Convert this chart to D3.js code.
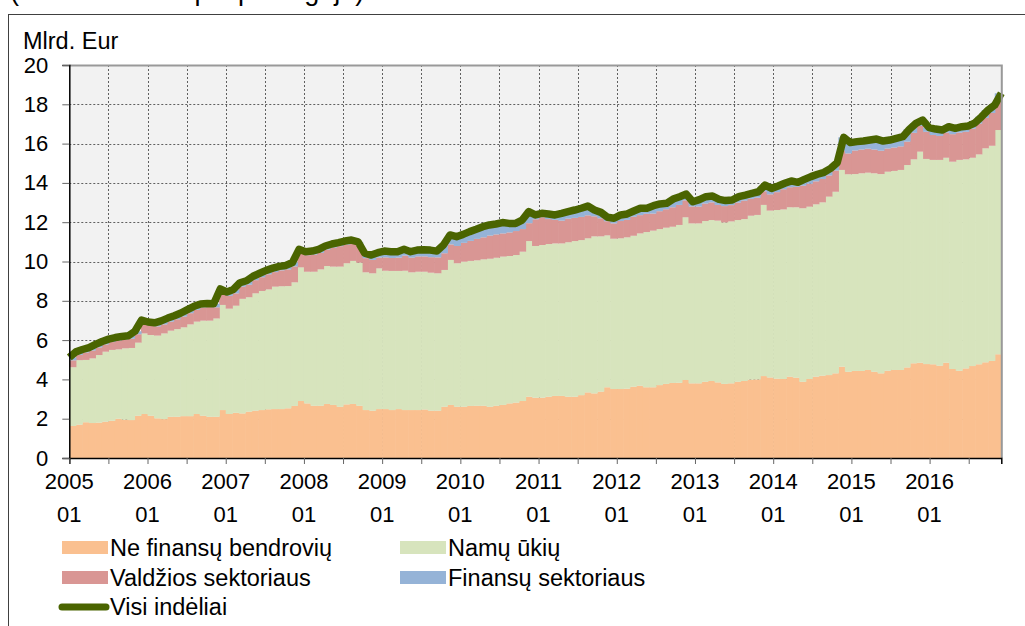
<!DOCTYPE html>
<html>
<head>
<meta charset="utf-8">
<script src="https://cdn.jsdelivr.net/npm/d3@7"></script>
<style>
body{margin:0;background:#fff;}
svg{display:block;font-family:"Liberation Sans",Arial,sans-serif;}
</style>
</head>
<body>
<svg id="canvas"></svg>
<script>
// 2005 01 ... 2016 11, mlrd. Eur
let years=['2005','2006','2007','2008','2009','2010','2011','2012','2013','2014','2015','2016'];
let monthCount=143;

let nonFin=[
1.63,1.70,1.82,1.78,1.80,1.85,1.90,2.00,1.95,1.93,2.15,2.24,
2.15,2.02,1.98,2.10,2.10,2.13,2.13,2.24,2.15,2.10,2.10,2.44,
2.24,2.30,2.27,2.36,2.41,2.44,2.48,2.49,2.49,2.53,2.65,2.90,
2.78,2.66,2.66,2.75,2.70,2.61,2.73,2.75,2.66,2.44,2.41,2.49,
2.49,2.44,2.49,2.44,2.44,2.44,2.47,2.41,2.41,2.61,2.70,2.61,
2.61,2.65,2.66,2.66,2.61,2.66,2.70,2.78,2.82,2.90,3.12,3.07,
3.07,3.12,3.16,3.16,3.12,3.12,3.20,3.34,3.29,3.38,3.60,3.51,
3.51,3.53,3.63,3.68,3.60,3.60,3.71,3.77,3.82,3.83,3.97,3.80,
3.80,3.88,3.92,3.85,3.77,3.80,3.88,3.92,3.99,4.00,4.17,4.10,
4.04,4.02,4.14,4.09,3.88,4.02,4.14,4.19,4.22,4.31,4.65,4.39,
4.43,4.43,4.48,4.39,4.31,4.44,4.48,4.48,4.61,4.82,4.85,4.78,
4.77,4.70,4.85,4.53,4.44,4.56,4.68,4.77,4.87,4.94,5.28];

let households=[
2.99,3.28,3.17,3.29,3.44,3.56,3.60,3.53,3.63,3.67,3.72,4.10,
4.11,4.21,4.36,4.38,4.46,4.52,4.67,4.70,4.84,4.89,5.00,5.35,
5.36,5.45,5.83,5.82,5.97,6.06,6.10,6.23,6.25,6.22,6.29,6.80,
6.70,6.82,6.94,7.02,7.04,7.13,7.18,7.28,7.28,7.01,6.99,7.16,
7.04,7.08,7.03,7.09,7.01,7.04,7.01,7.02,6.99,6.96,7.38,7.30,
7.38,7.38,7.40,7.45,7.53,7.53,7.55,7.50,7.51,7.60,7.92,7.72,
7.77,7.77,7.76,7.76,7.86,7.92,7.89,7.84,7.99,7.90,7.73,7.65,
7.67,7.70,7.68,7.75,7.90,7.97,7.94,7.95,7.95,8.03,8.28,8.14,
8.14,8.18,8.19,8.23,8.22,8.24,8.23,8.24,8.34,8.37,8.71,8.49,
8.58,8.63,8.62,8.67,8.83,8.77,8.77,8.82,9.08,9.24,10.01,10.05,
10.02,10.06,10.04,10.10,10.14,10.13,10.13,10.18,10.30,10.38,10.74,10.44,
10.40,10.47,10.43,10.55,10.73,10.64,10.60,10.68,10.89,10.95,11.41];

let government=[
0.35,0.27,0.38,0.40,0.39,0.37,0.40,0.45,0.45,0.47,0.43,0.50,
0.48,0.47,0.46,0.46,0.50,0.55,0.57,0.60,0.67,0.69,0.57,0.61,
0.65,0.63,0.62,0.64,0.67,0.70,0.77,0.74,0.81,0.85,0.81,0.72,
0.84,0.87,0.84,0.84,0.97,1.04,0.95,0.88,0.88,0.72,0.68,0.55,
0.68,0.66,0.68,0.77,0.75,0.78,0.78,0.79,0.81,0.85,0.79,0.88,
0.96,1.02,1.09,1.12,1.18,1.19,1.18,1.20,1.22,1.15,0.91,1.36,
1.41,1.27,1.20,1.16,1.20,1.18,1.18,1.17,1.02,0.92,0.72,0.78,
0.88,0.89,0.97,0.93,0.93,0.87,0.91,0.94,0.99,1.02,0.86,0.86,
0.86,0.89,0.90,0.80,0.83,0.83,0.89,0.94,0.86,0.88,0.69,0.83,
0.91,1.03,1.02,1.04,1.15,1.17,1.17,1.19,1.08,1.08,0.97,1.06,
1.20,1.21,1.22,1.21,1.19,1.18,1.19,1.20,1.19,1.35,1.31,1.38,
1.27,1.22,1.28,1.40,1.39,1.40,1.48,1.57,1.55,1.67,1.47];

let financial=[
0.15,0.15,0.15,0.15,0.15,0.15,0.15,0.15,0.15,0.15,0.15,0.18,
0.18,0.18,0.18,0.18,0.18,0.18,0.18,0.18,0.18,0.18,0.18,0.20,
0.20,0.20,0.20,0.20,0.20,0.20,0.20,0.20,0.20,0.20,0.20,0.20,
0.18,0.18,0.18,0.18,0.18,0.18,0.18,0.18,0.18,0.25,0.25,0.25,
0.32,0.32,0.30,0.32,0.30,0.32,0.34,0.36,0.32,0.42,0.48,0.47,
0.43,0.47,0.49,0.54,0.54,0.53,0.55,0.46,0.39,0.46,0.59,0.22,
0.20,0.26,0.25,0.37,0.36,0.40,0.44,0.47,0.32,0.30,0.20,0.26,
0.31,0.30,0.29,0.35,0.28,0.40,0.37,0.30,0.42,0.42,0.32,0.24,
0.35,0.35,0.32,0.28,0.28,0.26,0.30,0.28,0.28,0.30,0.32,0.30,
0.31,0.30,0.32,0.23,0.32,0.36,0.36,0.34,0.36,0.40,0.69,0.55,
0.45,0.43,0.44,0.53,0.49,0.43,0.47,0.49,0.63,0.48,0.30,0.21,
0.30,0.30,0.30,0.30,0.30,0.30,0.30,0.35,0.40,0.40,0.40];

let allDeposits=[
5.12,5.40,5.52,5.62,5.78,5.93,6.05,6.13,6.18,6.22,6.45,7.02,
6.92,6.88,6.98,7.12,7.24,7.38,7.55,7.72,7.84,7.86,7.85,8.60,
8.45,8.58,8.92,9.02,9.25,9.40,9.55,9.66,9.75,9.80,9.95,10.62,
10.50,10.53,10.62,10.79,10.89,10.96,11.04,11.09,11.00,10.42,10.33,10.45,
10.53,10.50,10.50,10.62,10.50,10.58,10.60,10.58,10.53,10.84,11.35,11.26,
11.38,11.52,11.64,11.77,11.86,11.91,11.98,11.94,11.94,12.11,12.54,12.37,
12.45,12.42,12.37,12.45,12.54,12.62,12.71,12.82,12.62,12.50,12.25,12.20,
12.37,12.42,12.57,12.71,12.71,12.84,12.93,12.96,13.18,13.30,13.43,13.04,
13.15,13.30,13.33,13.16,13.10,13.13,13.30,13.38,13.47,13.55,13.89,13.72,
13.84,13.98,14.10,14.03,14.18,14.32,14.44,14.54,14.74,15.03,16.32,16.05,
16.10,16.13,16.18,16.23,16.13,16.18,16.27,16.35,16.73,17.03,17.20,16.81,
16.74,16.69,16.86,16.78,16.86,16.90,17.06,17.37,17.71,17.96,18.56];

let seriesNames=['Ne finansų bendrovių','Namų ūkių','Valdžios sektoriaus','Finansų sektoriaus'];
let lineName='Visi indėliai';
let yTicks=[0,2,4,6,8,10,12,14,16,18,20];
let unitLabel='Mlrd. Eur';
let topNote='(likučiai laikotarpio pabaigoje)';

let colors=['#fac090','#d7e4bd','#d99694','#95b3d7'];
let lineColor='#4a6400';

let width=1025;
let height=626;
let plotLeft=69.3,plotRight=1001.3,plotTop=65,plotBottom=458;

let canvas=d3.select('#canvas')
canvas.attr('width',width)
canvas.attr('height',height)

let xscale,xline,xaxisScale,yscale;
let rows=[];

function buildRows(){
    for(let i=0;i<monthCount;i++){
        rows.push({i:i,nf:nonFin[i],hh:households[i],gov:government[i],fin:financial[i]});
    }
}

function generateScales(){
    xscale=d3.scaleBand()
        .domain(d3.range(monthCount))
        .range([plotLeft,plotRight])
        .paddingInner(0).paddingOuter(0);
    xline=d3.scalePoint()
        .domain(d3.range(monthCount))
        .range([plotLeft,plotRight]);
    xaxisScale=d3.scaleLinear()
        .domain([0,monthCount])
        .range([plotLeft,plotRight]);
    yscale=d3.scaleLinear()
        .domain([0,20])
        .range([plotBottom,plotTop]);
}

function drawFrame(){
    // note line above the frame is cut by the image edge, as in the source
    canvas.append('text')
        .attr('x',10).attr('y',0)
        .attr('font-size',27)
        .text(topNote);
    canvas.append('rect')
        .attr('x',8.5).attr('y',14.5)
        .attr('width',1030).attr('height',700)
        .attr('fill','#fff')
        .attr('stroke','#404040').attr('stroke-width',1);
    canvas.append('rect')
        .attr('x',plotLeft).attr('y',plotTop)
        .attr('width',plotRight-plotLeft).attr('height',plotBottom-plotTop)
        .attr('fill','#f2f2f2');
}

function drawGrid(){
    let g=canvas.append('g').attr('stroke','#606060').attr('stroke-width',1).attr('stroke-dasharray','2,2');
    g.selectAll('.hgrid')
        .data(yTicks.filter(d=>d>0&&d<20))
        .enter().append('line')
        .attr('x1',plotLeft).attr('x2',plotRight)
        .attr('y1',d=>Math.round(yscale(d))+0.5).attr('y2',d=>Math.round(yscale(d))+0.5);
    g.selectAll('.vgrid')
        .data(d3.range(6,monthCount,6))
        .enter().append('line')
        .attr('y1',plotTop).attr('y2',plotBottom)
        .attr('x1',d=>Math.round(xaxisScale(d))+0.5).attr('x2',d=>Math.round(xaxisScale(d))+0.5);
}

function drawBars(){
    let stack=d3.stack().keys(['nf','hh','gov','fin']);
    let layers=stack(rows);
    canvas.append('g')
        .selectAll('g')
        .data(layers)
        .enter()
        .append('g')
        .attr('fill',(d,k)=>colors[k])
        .selectAll('rect')
        .data(d=>d)
        .enter()
        .append('rect')
        .attr('x',d=>xscale(d.data.i))
        .attr('width',xscale.bandwidth()+0.6)
        .attr('y',d=>yscale(d[1]))
        .attr('height',d=>yscale(d[0])-yscale(d[1]));
}

function drawLine(){
    let line=d3.line()
        .x((d,i)=>xline(i))
        .y(d=>yscale(d));
    canvas.append('path')
        .datum(allDeposits)
        .attr('d',line)
        .attr('fill','none')
        .attr('stroke',lineColor)
        .attr('stroke-width',7.5)
        .attr('stroke-linejoin','round');
}

function drawAxis(){
    // plot border top/right
    canvas.append('path')
        .attr('d','M'+plotLeft+','+(plotTop+0.5)+'H'+(plotRight+0.5)+'V'+plotBottom)
        .attr('fill','none').attr('stroke','#999').attr('stroke-width',2);

    let yAxis=d3.axisLeft(yscale).tickValues(yTicks).tickSize(7).tickPadding(14).tickFormat(d3.format('d'));
    let gy=canvas.append('g')
        .attr('id','y-axis')
        .attr('transform','translate('+plotLeft+',0)')
        .call(yAxis);
    gy.select('.domain').attr('stroke','#000').attr('stroke-width',1.5);
    gy.selectAll('.tick line').attr('stroke','#666');
    gy.selectAll('.tick text').attr('font-size',22).attr('font-family','"Liberation Sans",Arial,sans-serif').attr('fill','#000');

    let xAxis=d3.axisBottom(xaxisScale).tickValues(d3.range(0,monthCount+1,6)).tickSize(6).tickFormat('');
    let gx=canvas.append('g')
        .attr('id','x-axis')
        .attr('transform','translate(0,'+plotBottom+')')
        .call(xAxis);
    gx.select('.domain').attr('stroke','#000').attr('stroke-width',1.5);
    gx.selectAll('.tick line').attr('stroke','#666');

    let labels=canvas.append('g')
        .attr('font-size',22).attr('text-anchor','middle');
    labels.selectAll('text')
        .data(years)
        .enter().append('text')
        .attr('x',(d,j)=>xaxisScale(j*12))
        .attr('y',489)
        .each(function(d){
            let t=d3.select(this);
            t.append('tspan').text(d);
            t.append('tspan').attr('x',t.attr('x')).attr('dy',33).text('01');
        });

    canvas.append('text')
        .attr('x',23).attr('y',49)
        .attr('font-size',23.5)
        .text(unitLabel);
}

function drawLegend(){
    let items=[
        {name:seriesNames[0],color:colors[0],x:62,y:556},
        {name:seriesNames[1],color:colors[1],x:400,y:556},
        {name:seriesNames[2],color:colors[2],x:62,y:586},
        {name:seriesNames[3],color:colors[3],x:400,y:586}
    ];
    let lg=canvas.append('g').attr('font-size',23.5);
    items.forEach(it=>{
        lg.append('rect')
            .attr('x',it.x).attr('y',it.y-15)
            .attr('width',46).attr('height',13)
            .attr('fill',it.color);
        lg.append('text')
            .attr('x',it.x+48).attr('y',it.y)
            .text(it.name);
    });
    lg.append('line')
        .attr('x1',62).attr('x2',106)
        .attr('y1',607).attr('y2',607)
        .attr('stroke',lineColor).attr('stroke-width',7).attr('stroke-linecap','round');
    lg.append('text')
        .attr('x',110).attr('y',615)
        .text(lineName);
}

buildRows();
generateScales();
drawFrame();
drawGrid();
drawBars();
drawLine();
drawAxis();
drawLegend();
</script>
</body>
</html>
